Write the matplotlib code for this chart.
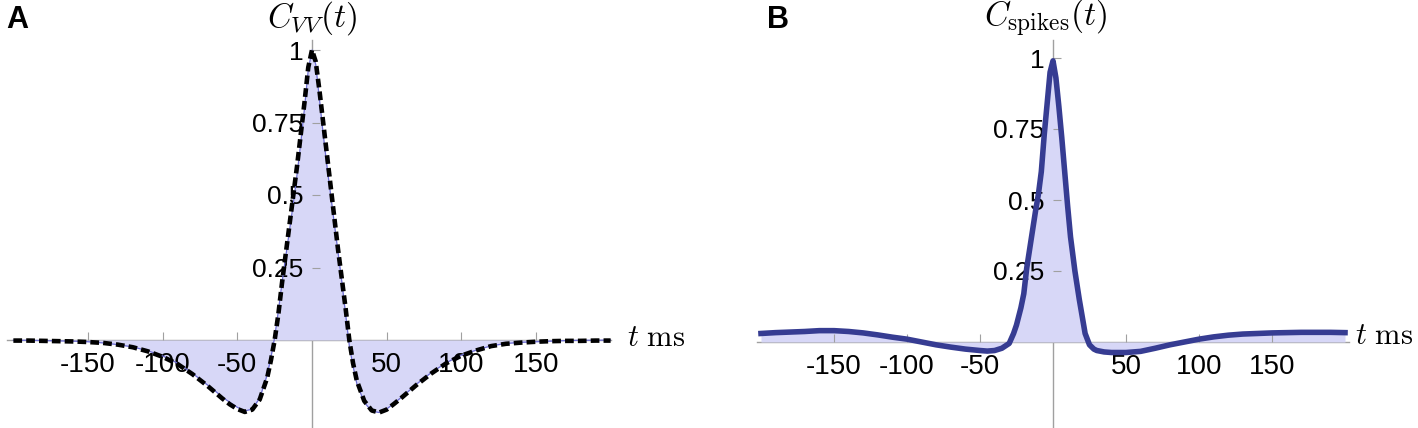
"""Autocorrelation of membrane voltage (A) and of spike trains (B)."""
import matplotlib

matplotlib.use("Agg")
import matplotlib.pyplot as plt

plt.rcParams["font.family"] = ["Liberation Sans", "DejaVu Sans"]
plt.rcParams["mathtext.fontset"] = "cm"

W, H = 1418, 428

# --- panel A: voltage autocorrelation (measured + model fit) ---
t_a = [-200, -190, -180, -170, -160, -150, -140, -130, -120, -110, -100, -90,
       -80, -75, -70, -65, -60, -55, -50, -45, -40, -35, -30, -27.5, -25,
       -22.5, -20, -17.5, -15, -12.5, -10, -7.5, -5, -2.5, 0, 2.5, 5, 7.5,
       10, 12.5, 15, 17.5, 20, 22.5, 25, 27.5, 30, 35, 40, 45, 50, 55, 60,
       65, 70, 75, 80, 90, 100, 110, 120, 130, 140, 150, 160, 170, 180, 190,
       200]
c_vv = [-0.001, -0.001, -0.002, -0.003, -0.004, -0.006, -0.010, -0.016,
        -0.024, -0.037, -0.055, -0.080, -0.115, -0.135, -0.155, -0.175,
        -0.197, -0.215, -0.232, -0.245, -0.238, -0.200, -0.120, -0.060,
        0.010, 0.100, 0.200, 0.290, 0.380, 0.470, 0.570, 0.680, 0.800,
        0.930, 1.000, 0.950, 0.830, 0.710, 0.600, 0.500, 0.400, 0.300,
        0.200, 0.090, -0.020, -0.090, -0.150, -0.215, -0.245, -0.250,
        -0.238, -0.218, -0.197, -0.175, -0.152, -0.132, -0.112, -0.078,
        -0.052, -0.035, -0.020, -0.012, -0.008, -0.006, -0.004, -0.002,
        -0.001, -0.001, 0.000]
c_vv_fit = [-0.002, -0.002, -0.003, -0.004, -0.005, -0.007, -0.010, -0.016,
            -0.025, -0.039, -0.058, -0.083, -0.118, -0.138, -0.158, -0.180,
            -0.202, -0.222, -0.238, -0.248, -0.240, -0.205, -0.130, -0.070,
            0.000, 0.090, 0.200, 0.300, 0.400, 0.500, 0.600, 0.710, 0.820,
            0.940, 1.000, 0.960, 0.860, 0.750, 0.640, 0.530, 0.420, 0.310,
            0.210, 0.110, 0.000, -0.080, -0.140, -0.210, -0.243, -0.250,
            -0.240, -0.220, -0.199, -0.177, -0.155, -0.135, -0.115, -0.080,
            -0.054, -0.036, -0.021, -0.013, -0.009, -0.006, -0.004, -0.003,
            -0.003, -0.002, -0.002]

# --- panel B: spike-train autocorrelation ---
t_b = [-200, -190, -180, -170, -160, -150, -140, -130, -120, -110, -100, -90,
       -80, -70, -60, -50, -45, -40, -35, -30, -27, -25, -22, -20, -18, -15,
       -12, -10, -8, -6, -4, -2, 0, 2, 4, 6, 8, 10, 12, 15, 18, 20, 22, 25,
       28, 30, 35, 40, 50, 60, 70, 80, 90, 100, 110, 120, 130, 140, 150, 160,
       170, 180, 190, 200]
c_spikes = [0.030, 0.033, 0.035, 0.037, 0.040, 0.040, 0.037, 0.032, 0.025,
            0.017, 0.010, 0.000, -0.010, -0.018, -0.025, -0.030, -0.032,
            -0.030, -0.022, -0.005, 0.030, 0.060, 0.120, 0.170, 0.260, 0.360,
            0.460, 0.520, 0.600, 0.730, 0.840, 0.950, 0.990, 0.930, 0.830,
            0.720, 0.600, 0.480, 0.370, 0.250, 0.150, 0.090, 0.030, -0.010,
            -0.025, -0.030, -0.035, -0.037, -0.037, -0.033, -0.022, -0.010,
            0.000, 0.010, 0.018, 0.024, 0.028, 0.030, 0.032, 0.033, 0.034,
            0.034, 0.034, 0.033]

x_ticks = [-150, -100, -50, 50, 100, 150]
y_ticks = [0.25, 0.5, 0.75, 1]
y_tick_labels = ["0.25", "0.5", "0.75", "1"]

FILL = "#d7d7f7"
AXIS_GREY = "#a0a0a0"


def add_axes_px(fig, left, right, top, bottom):
    return fig.add_axes([left / W, 1 - bottom / H, (right - left) / W, (bottom - top) / H])


def style_axes(ax):
    for side in ("top", "right"):
        ax.spines[side].set_visible(False)
    for side in ("left", "bottom"):
        ax.spines[side].set_position(("data", 0))
        ax.spines[side].set_color(AXIS_GREY)
        ax.spines[side].set_linewidth(1.0)
        ax.spines[side].set_zorder(0.5)
    ax.set_xticks(x_ticks)
    ax.set_xticklabels([str(v) for v in x_ticks])
    ax.set_yticks(y_ticks)
    ax.set_yticklabels(y_tick_labels)
    ax.tick_params(direction="in", length=6, color=AXIS_GREY)
    ax.tick_params(axis="x", pad=9, labelsize=20)
    ax.tick_params(axis="y", pad=6, labelsize=19)
    ax.patch.set_visible(False)


fig = plt.figure(figsize=(W / 100, H / 100), dpi=100)

# panel A
ax_a = add_axes_px(fig, 7.4, 610.6, 40, 428)
ax_a.set_xlim(-204, 200)
ax_a.set_ylim(-(428 - 340) / 290, (340 - 40) / 290)
ax_a.fill_between(t_a, c_vv, 0, color=FILL, lw=0, zorder=1)
ax_a.plot(t_a, c_vv, color="#6c6cd2", lw=0.9, zorder=2)
ax_a.plot(t_a, c_vv_fit, color="black", lw=3.3, dashes=(1.9, 0.9), zorder=3)
style_axes(ax_a)

# panel B
ax_b = add_axes_px(fig, 756.6, 1349.4, 40, 428)
ax_b.set_xlim(-203, 203)
ax_b.set_ylim(-(428 - 342) / 284, (342 - 40) / 284)
ax_b.fill_between(t_b, c_spikes, 0, color=FILL, lw=0, zorder=1)
ax_b.plot(t_b, c_spikes, color="#363c92", lw=4, zorder=2)
style_axes(ax_b)

# titles, axis names and panel letters
fig.text(312 / W, 1 - 18 / H, r"$C_{VV}(t)$", ha="center", va="center", fontsize=24)
fig.text(1046 / W, 1 - 18 / H, r"$C_{\mathrm{spikes}}(t)$", ha="center", va="center", fontsize=24)
fig.text(627 / W, 1 - 338 / H, r"$t\ \mathrm{ms}$", ha="left", va="center", fontsize=22)
fig.text(1355 / W, 1 - 336 / H, r"$t\ \mathrm{ms}$", ha="left", va="center", fontsize=22)
fig.text(6 / W, 1 - 20 / H, "A", ha="left", va="center", fontsize=22, fontweight="bold")
fig.text(767 / W, 1 - 20 / H, "B", ha="left", va="center", fontsize=22, fontweight="bold")

fig.savefig("out.png", dpi=100)
